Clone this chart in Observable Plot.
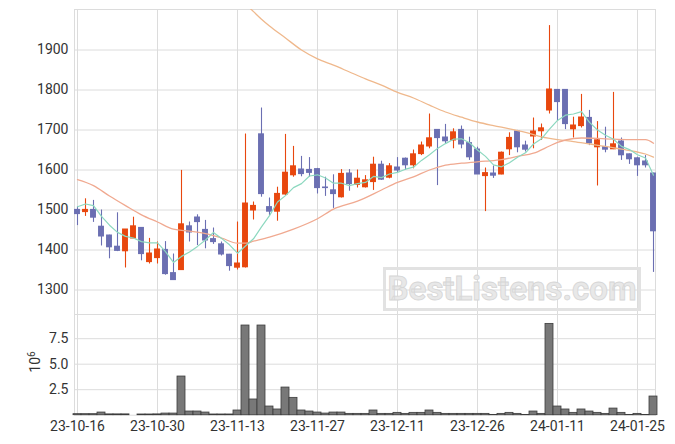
<!DOCTYPE html>
<html><head><meta charset="utf-8">
<script src="https://cdn.jsdelivr.net/npm/d3@7"></script>
<script src="https://cdn.jsdelivr.net/npm/@observablehq/plot@0.6"></script>
<style>
body{margin:0;background:#fff;}
#chart{position:relative;width:675px;height:444px;font-family:Roboto,sans-serif;overflow:hidden;}
#chart svg{display:block;}
.wm{position:absolute;left:383px;top:267px;width:252px;height:38px;border:3px solid #e2e2e2;
  font-family:Roboto,sans-serif;font-weight:bold;font-size:33px;line-height:38px;text-align:center;
  color:#e8e8e8;-webkit-text-stroke:0.8px #d6d6d6;pointer-events:none;}
.vlabel{position:absolute;left:20px;top:353px;font-family:Roboto,sans-serif;font-size:14px;color:#333;
  transform:rotate(-90deg);transform-origin:center;width:30px;height:18px;line-height:18px;text-align:center;}
.vlabel sup{font-size:10px;vertical-align:5px;line-height:0;}
</style></head><body><div id="chart"></div>
<script>
const dates = ["23-10-16","23-10-17","23-10-18","23-10-19","23-10-20","23-10-23","23-10-24","23-10-25","23-10-26","23-10-27",
"23-10-30","23-10-31","23-11-01","23-11-02","23-11-03","23-11-06","23-11-07","23-11-08","23-11-09","23-11-10",
"23-11-13","23-11-14","23-11-15","23-11-16","23-11-17","23-11-20","23-11-21","23-11-22","23-11-23","23-11-24",
"23-11-27","23-11-28","23-11-29","23-11-30","23-12-01","23-12-04","23-12-05","23-12-06","23-12-07","23-12-08",
"23-12-11","23-12-12","23-12-13","23-12-14","23-12-15","23-12-18","23-12-19","23-12-20","23-12-21","23-12-22",
"23-12-26","23-12-27","23-12-28","24-01-02","24-01-03","24-01-04","24-01-05","24-01-08","24-01-09","24-01-10",
"24-01-11","24-01-12","24-01-15","24-01-16","24-01-17","24-01-18","24-01-19","24-01-22","24-01-23","24-01-24",
"24-01-25","24-01-26","24-01-29"];
const open  = [1500,1495,1500,1458,1436,1408,1397,1429,1455,1370,1380,1400,1342,1350,1459,1481,1450,1427,1414,1388,
1356,1357,1499,1689,1507,1496,1539,1587,1601,1600,1602,1556,1549,1532,1591,1563,1557,1570,1613,1581,
1606,1628,1612,1640,1659,1700,1681,1674,1700,1667,1651,1585,1591,1589,1652,1696,1661,1684,1697,1749,
1800,1800,1702,1710,1730,1657,1657,1652,1671,1639,1629,1621,1591];
const high  = [1508,1528,1524,1500,1437,1493,1451,1482,1456,1429,1420,1421,1390,1599,1470,1488,1474,1455,1420,1389,
1470,1690,1520,1755,1530,1557,1689,1659,1634,1631,1604,1582,1588,1601,1601,1600,1586,1632,1622,1616,
1631,1630,1650,1670,1740,1701,1714,1703,1710,1682,1657,1605,1610,1645,1693,1699,1672,1730,1715,1961,
1800,1800,1732,1789,1749,1721,1707,1794,1680,1640,1632,1636,1592];
const low   = [1461,1484,1469,1410,1378,1396,1355,1429,1373,1365,1365,1337,1325,1349,1420,1411,1403,1414,1385,1347,
1350,1355,1475,1532,1486,1472,1536,1582,1583,1582,1540,1534,1504,1530,1547,1555,1555,1549,1574,1578,
1592,1599,1603,1636,1653,1561,1665,1653,1653,1624,1589,1496,1579,1588,1636,1643,1645,1653,1674,1740,
1722,1701,1680,1705,1661,1560,1643,1651,1624,1614,1584,1605,1344];
const close = [1490,1500,1481,1434,1407,1398,1451,1459,1390,1391,1401,1340,1325,1464,1444,1470,1424,1420,1389,1360,
1366,1516,1510,1540,1496,1540,1593,1609,1590,1593,1555,1555,1540,1590,1565,1578,1574,1613,1576,1609,
1599,1612,1639,1661,1679,1680,1672,1694,1664,1632,1589,1592,1586,1643,1680,1657,1651,1696,1704,1801,
1770,1715,1711,1731,1667,1674,1651,1664,1637,1627,1612,1612,1447];
const volume = [0.10,0.10,0.10,0.26,0.08,0.08,0.08,0,0.07,0.07,0.08,0.16,0.16,3.79,0.36,0.36,0.26,0.07,0.07,0.07,
0.46,8.79,1.54,8.79,0.85,0.56,2.71,1.70,0.46,0.36,0.26,0.16,0.26,0.26,0.13,0.13,0.13,0.46,0.13,0.13,
0.23,0.13,0.23,0.23,0.46,0.23,0.13,0.13,0.13,0.13,0.13,0.13,0.03,0.13,0.23,0.13,0.03,0.36,0.13,8.95,
0.85,0.56,0.23,0.56,0.36,0.23,0.13,0.65,0.23,0.03,0.13,0.03,1.83];
const ma5 = [1508,1515,1511,1484,1462,1444,1434,1430,1421,1418,1418,1396,1369,1384,1395,1409,1425,1444,1429,1413,
1392,1410,1428,1458,1486,1520,1536,1556,1566,1585,1588,1580,1567,1567,1561,1566,1569,1584,1581,1590,
1594,1602,1607,1624,1638,1654,1666,1677,1678,1668,1650,1634,1613,1608,1618,1632,1643,1665,1678,1702,
1724,1737,1740,1746,1719,1700,1687,1677,1659,1651,1638,1630,1587];
const ma20Idx = [0,2,4,6,8,10,12,14,16,18,20,21,22,24,27,30,32,35,38,40,42,44,46,48,51,53,55,57,59,60,61,63,66,69,71,72];
const ma20Val = [1576,1561,1535,1511,1488,1470,1452,1447,1441,1430,1417,1417,1422,1432,1452,1478,1502,1522,1550,1569,1583,1600,1612,1617,1622,1626,1634,1642,1660,1669,1675,1680,1678,1676,1676,1667];
const ma60Idx = [20,21,22,23,24,26,28,30,32,34,36,38,40,42,44,46,48,50,52,54,56,58,60,62,64,66,68,70,71,72];
const ma60Val = [2035,2015,1996,1977,1960,1930,1900,1878,1862,1845,1828,1812,1794,1780,1762,1745,1732,1720,1711,1703,1694,1683,1676,1671,1665,1659,1652,1645,1640,1632];
const priceTicks = [1300,1400,1500,1600,1700,1800,1900];
const volTicks = [2.5e6,5e6,7.5e6];
const dateTicks = [0,10,20,30,40,50,60,70];

const candles = dates.map((d,i)=>({i, date:d, open:open[i], high:high[i], low:low[i], close:close[i], vol:volume[i]*1e6}));
const ma5Data = ma5.map((v,i)=>({i, v}));
const ma20Data = ma20Idx.map((x,k)=>({i:x, v:ma20Val[k]}));
const ma60Data = ma60Idx.map((x,k)=>({i:x, v:ma60Val[k]}));
const UP = "#e8470e", DOWN = "#6b6fb2";
const col = d => d.close >= d.open ? UP : DOWN;
const xDomain = [-0.375, 72.25];
const style = {fontFamily:"Roboto, sans-serif", fontSize:"14px", color:"#333", background:"transparent", overflow:"visible"};

const main = Plot.plot({
  width:675, height:314, marginLeft:74, marginRight:20, marginTop:9, marginBottom:0,
  style,
  x:{domain:xDomain, axis:null},
  y:{domain:[1238.75, 2001.25], axis:null},
  marks:[
    Plot.gridX(dateTicks, {stroke:"#dcdcdc", strokeOpacity:1}),
    Plot.gridY(priceTicks, {stroke:"#dcdcdc", strokeOpacity:1}),
    Plot.frame({stroke:"#dcdcdc"}),
    Plot.axisY(priceTicks, {tickSize:0, tickPadding:6, fill:"#333", label:null, tickFormat:d=>String(d)}),
    Plot.ruleX(candles, {x:"i", y1:"low", y2:"high", stroke:col, strokeWidth:1.1}),
    Plot.rect(candles, {x1:d=>d.i-0.37, x2:d=>d.i+0.37, y1:"open", y2:"close", fill:col, insetTop:-0.6, insetBottom:-0.6}),
    Plot.line(ma60Data, {x:"i", y:"v", stroke:"#efb88c", strokeWidth:1.3, curve:"monotone-x", clip:true}),
    Plot.line(ma20Data, {x:"i", y:"v", stroke:"#f0a990", strokeWidth:1.3, curve:"monotone-x"}),
    Plot.line(ma5Data, {x:"i", y:"v", stroke:"#8cd8bf", strokeWidth:1.2})
  ]
});

const vol = Plot.plot({
  width:675, height:130, marginLeft:74, marginRight:20, marginTop:0, marginBottom:29.3,
  style,
  x:{domain:xDomain, axis:null},
  y:{domain:[0, 9.87e6], axis:null},
  marks:[
    Plot.gridX(dateTicks, {stroke:"#dcdcdc", strokeOpacity:1}),
    Plot.gridY(volTicks, {stroke:"#dcdcdc", strokeOpacity:1}),
    Plot.frame({stroke:"#dcdcdc"}),
    Plot.rectY(candles, {x1:d=>d.i-0.5, x2:d=>d.i+0.5, y:"vol", fill:"#787878", stroke:"#3c3c3c", strokeWidth:0.8}),
    Plot.axisY(volTicks, {tickSize:0, tickPadding:6, fill:"#333", label:null, tickFormat:d=>(d/1e6).toFixed(1)}),
    Plot.axisX(dateTicks, {tickSize:0, tickPadding:6, fill:"#333", label:null, tickFormat:i=>dates[i]})
  ]
});

const root = document.getElementById("chart");
root.appendChild(main);
root.appendChild(vol);
const lab = document.createElement("div");
lab.className = "vlabel";
lab.innerHTML = "10<sup>6</sup>";
root.appendChild(lab);
const wm = document.createElement("div");
wm.className = "wm";
wm.textContent = "BestListens.com";
root.appendChild(wm);
</script>
</body></html>
